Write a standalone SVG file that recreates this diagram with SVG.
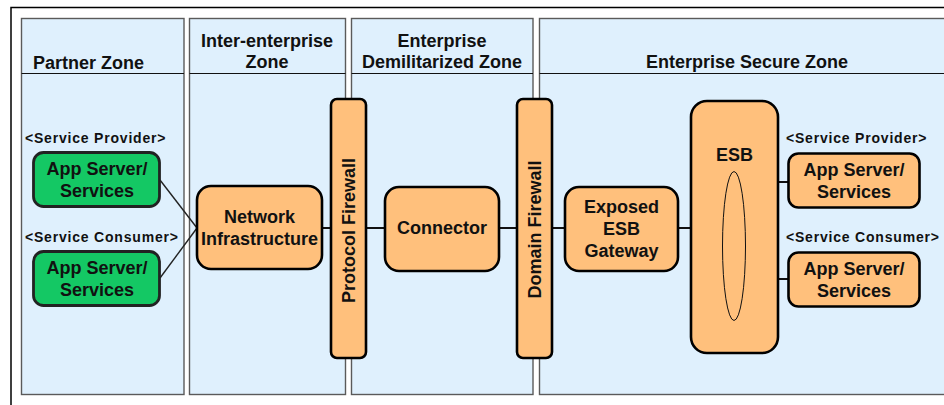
<svg xmlns="http://www.w3.org/2000/svg" width="944" height="405" viewBox="0 0 944 405">
<style>
.zone{fill:#dff0fd;stroke:#5a5a5a;stroke-width:1.4}
.hdr{stroke:#111;stroke-width:1.2}
.t{font-family:"Liberation Sans",Arial,sans-serif;font-weight:bold;font-size:18px;fill:#111}
.c{text-anchor:middle}
.s{font-family:"Liberation Sans",Arial,sans-serif;font-weight:bold;font-size:14px;letter-spacing:0.8px;fill:#111}
.org{fill:#ffc07c;stroke:#000;stroke-width:2.6}
.grn{fill:#14c864;stroke:#222;stroke-width:2.8}
.ln{stroke:#111;stroke-width:2;fill:none}
.thin{stroke:#222;stroke-width:1.4;fill:none}
</style>
<rect width="944" height="405" fill="#fff"/>
<path d="M11,405 V7.5 H944" fill="none" stroke="#000" stroke-width="1.5"/>
<g id="zones">
<g id="partner-zone">
<rect class="zone" x="21.5" y="18.5" width="162.5" height="376"/>
<line class="hdr" x1="21.5" y1="73.5" x2="184" y2="73.5"/>
<text class="t" x="33" y="69">Partner Zone</text>
</g>
<g id="inter-enterprise-zone">
<rect class="zone" x="189.5" y="18.5" width="156" height="376"/>
<line class="hdr" x1="189.5" y1="73.5" x2="345.5" y2="73.5"/>
<text class="t c" x="267" y="47">Inter-enterprise</text>
<text class="t c" x="267" y="68">Zone</text>
</g>
<g id="dmz-zone">
<rect class="zone" x="351.5" y="18.5" width="181.5" height="376"/>
<line class="hdr" x1="351.5" y1="73.5" x2="533" y2="73.5"/>
<text class="t c" x="442" y="47">Enterprise</text>
<text class="t c" x="442" y="68">Demilitarized Zone</text>
</g>
<g id="secure-zone">
<rect class="zone" x="539.5" y="18.5" width="410" height="376"/>
<line class="hdr" x1="539.5" y1="73.5" x2="944" y2="73.5"/>
<text class="t c" x="747" y="68">Enterprise Secure Zone</text>
</g>
</g>
<g id="connectors">
<line class="thin" x1="160" y1="180" x2="197" y2="228"/>
<line class="thin" x1="160" y1="278" x2="197" y2="228"/>
<line class="ln" x1="322" y1="228" x2="331" y2="228"/>
<line class="ln" x1="366" y1="228" x2="385" y2="228"/>
<line class="ln" x1="499" y1="228" x2="517" y2="228"/>
<line class="ln" x1="552" y1="228" x2="565" y2="228"/>
<line class="ln" x1="678" y1="228" x2="691" y2="228"/>
<line class="ln" x1="778" y1="182" x2="788" y2="182"/>
<line class="ln" x1="778" y1="279" x2="788" y2="279"/>
</g>
<g id="partner-provider">
<text class="s" x="25" y="143">&lt;Service Provider&gt;</text>
<rect class="grn" x="33.5" y="152.5" width="126" height="54" rx="10"/>
<text class="t c" x="97" y="175">App Server/</text>
<text class="t c" x="97" y="197">Services</text>
</g>
<g id="partner-consumer">
<text class="s" x="25" y="242">&lt;Service Consumer&gt;</text>
<rect class="grn" x="33.5" y="251.5" width="126" height="54" rx="10"/>
<text class="t c" x="97" y="274">App Server/</text>
<text class="t c" x="97" y="296">Services</text>
</g>
<g id="network-infrastructure">
<rect class="org" x="197" y="186" width="125" height="83" rx="14"/>
<text class="t c" x="259.5" y="223">Network</text>
<text class="t c" x="259.5" y="245">Infrastructure</text>
</g>
<g id="protocol-firewall">
<rect class="org" x="331" y="99" width="35" height="259" rx="6"/>
<text class="t c" transform="translate(354.5,230.5) rotate(-90)" x="0" y="0">Protocol Firewall</text>
</g>
<g id="connector">
<rect class="org" x="385" y="187" width="114" height="84" rx="14"/>
<text class="t c" x="442" y="234">Connector</text>
</g>
<g id="domain-firewall">
<rect class="org" x="517" y="99" width="35" height="259" rx="6"/>
<text class="t c" transform="translate(541,229.5) rotate(-90)" x="0" y="0">Domain Firewall</text>
</g>
<g id="exposed-esb-gateway">
<rect class="org" x="565" y="187" width="113" height="84" rx="14"/>
<text class="t c" x="621.5" y="213">Exposed</text>
<text class="t c" x="621.5" y="235">ESB</text>
<text class="t c" x="621.5" y="257">Gateway</text>
</g>
<g id="esb">
<rect class="org" x="691" y="101" width="87" height="252" rx="16"/>
<text class="t c" x="734.5" y="161">ESB</text>
<ellipse cx="734" cy="246" rx="11.5" ry="74.5" fill="none" stroke="#111" stroke-width="1"/>
</g>
<g id="secure-provider">
<text class="s" x="786" y="143">&lt;Service Provider&gt;</text>
<rect class="org" x="788.5" y="153.5" width="131" height="54" rx="10"/>
<text class="t c" x="854" y="176">App Server/</text>
<text class="t c" x="854" y="198">Services</text>
</g>
<g id="secure-consumer">
<text class="s" x="786" y="242">&lt;Service Consumer&gt;</text>
<rect class="org" x="788.5" y="252.5" width="131" height="54" rx="10"/>
<text class="t c" x="854" y="275">App Server/</text>
<text class="t c" x="854" y="297">Services</text>
</g>
</svg>
